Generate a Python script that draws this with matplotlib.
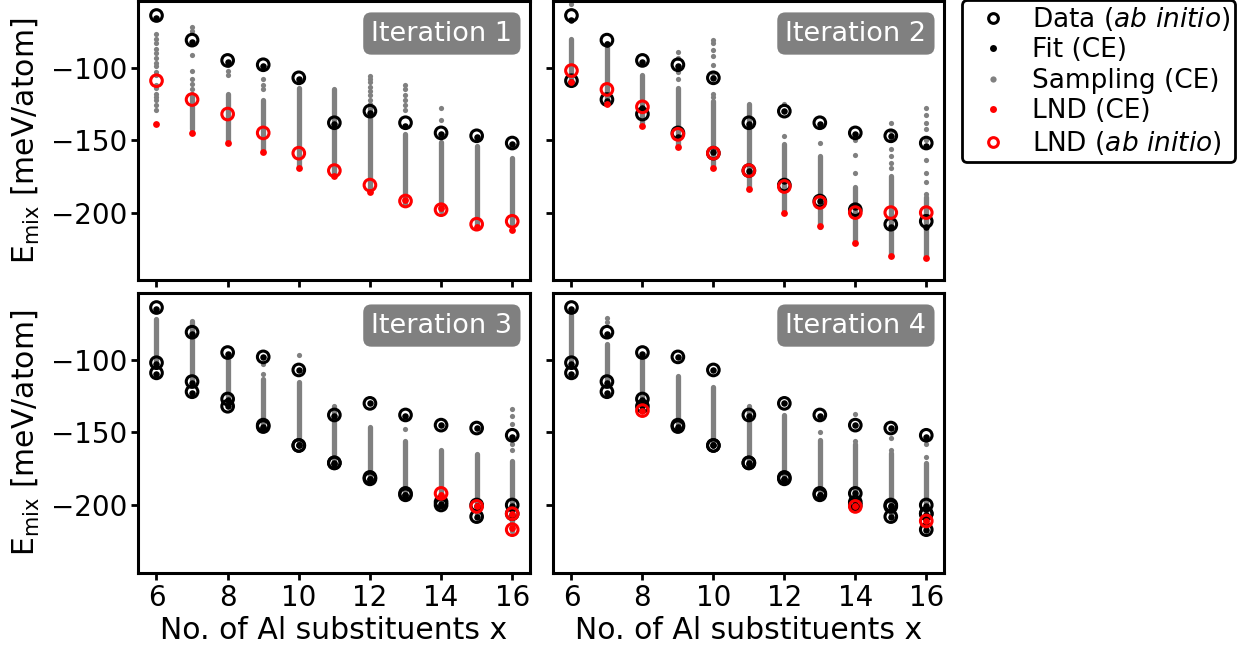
import matplotlib
matplotlib.use("Agg")
import matplotlib.pyplot as plt
from matplotlib.lines import Line2D

# ---------------- data ----------------
x_all = [6, 7, 8, 9, 10, 11, 12, 13, 14, 15, 16]

# ab initio data blocks (accumulate over iterations)
d0_y = [-64, -81, -95, -98, -107, -138, -130, -138, -145, -147, -152]
l1_x = x_all
l1_y = [-109, -122, -132, -145, -159, -171, -181, -192, -198, -208, -206]
l2_x = x_all
l2_y = [-102, -115, -127, -146, -159, -171, -182, -193, -200, -200, -200]
l3_x = [14, 15, 16, 16]
l3_y = [-192, -201, -206, -217]
l4_x = [8, 14, 16]
l4_y = [-135, -201, -211]

# LND (CE) predictions per iteration
c1_x = x_all
c1_y = [-139, -145, -152, -158, -169, -175, -186, -191, -197, -210, -212]
c2_x = x_all
c2_y = [-110, -125, -140, -155, -169, -184, -200, -209, -221, -230, -231]
c3_x = [14, 15, 16, 16]
c3_y = [-193, -201, -206, -216]
c4_x = [8, 14, 16]
c4_y = [-135, -201, -211]

# CE fit values for the data of each iteration
fit1_y = [-66, -82, -96, -99, -108, -139, -131, -140, -146, -148, -153]
fit2_y = [-67, -84, -96, -99, -107, -139, -130, -139, -146, -147, -154,
          -110, -123, -128, -148, -158, -171, -178, -192, -196, -210, -210]
fit3_y = [-65, -82, -96, -98, -107, -139, -130, -139, -145, -147, -153,
          -110, -123, -132, -146, -159, -171, -182, -193, -199, -208, -207,
          -103, -116, -128, -147, -159, -172, -182, -193, -200, -201, -201]
fit4_y = fit3_y + [-192, -201, -207, -217]

# sampling (CE): dense band (top, bottom) per x and isolated points
band1_top = [None, -118, -118, -122, -114, -115, -125, -146, -151, -154, -162]
band1_bot = [None, -142, -151, -157, -168, -173, -184, -194, -199, -210, -210]
ext1_x = [6] * 17 + [7] * 8 + [8] * 3 + [9] * 3 + [12] * 7 + [13] * 7 + [14] * 2
ext1_y = [-77, -80, -83, -87, -90, -93, -97, -99, -103, -105, -112, -114, -118, -120, -122, -126, -129,
          -72, -75, -83, -91, -102, -108, -111, -115,
          -98, -102, -105,
          -108, -112, -115,
          -106, -108, -110, -113, -116, -119, -122,
          -112, -115, -119, -122, -126, -129, -140,
          -128, -136]

band2_top = [-80, -83, -105, -114, -123, -125, -153, -161, -182, -175, -189]
band2_bot = [-110, -125, -138, -155, -168, -184, -198, -210, -221, -230, -230]
ext2_x = [6] + [9] * 5 + [10] * 8 + [12] * 2 + [13] + [14] * 3 + [15] * 7 + [16] * 9
ext2_y = [-56,
          -89, -93, -99, -103, -108,
          -81, -83, -88, -92, -98, -104, -118, -120,
          -125, -147,
          -152,
          -150, -160, -173,
          -138, -144, -150, -156, -161, -166, -169,
          -128, -133, -138, -142, -150, -164, -173, -179, -187]

band3_top = [-72, -74, -97, -113, -115, -132, -146, -156, -162, -165, -170]
band3_bot = [-103, -115, -129, -145, -158, -171, -181, -193, -197, -206, -218]
ext3_x = [7, 9, 9, 10, 13, 16, 16, 16, 16, 16]
ext3_y = [-73, -103, -110, -97, -148, -134, -139, -144, -158, -162]

band4_top = [-69, -89, -98, -111, -119, -132, -138, -155, -158, -164, -171]
band4_bot = [-104, -115, -128, -145, -158, -170, -181, -191, -197, -206, -216]
ext4_x = [7, 7, 13, 14, 14, 15, 15, 16, 16]
ext4_y = [-71, -74, -150, -137, -156, -154, -162, -158, -167]

titles = ["Iteration 1", "Iteration 2", "Iteration 3", "Iteration 4"]

# -------------- build panel tables --------------
panels = [
    dict(dx=x_all, dy=d0_y, fy=fit1_y, bt=band1_top, bb=band1_bot, ex=ext1_x, ey=ext1_y,
         cx=c1_x, cy=c1_y, lx=l1_x, ly=l1_y),
    dict(dx=x_all + l1_x, dy=d0_y + l1_y, fy=fit2_y, bt=band2_top, bb=band2_bot, ex=ext2_x, ey=ext2_y,
         cx=c2_x, cy=c2_y, lx=l2_x, ly=l2_y),
    dict(dx=x_all + l1_x + l2_x, dy=d0_y + l1_y + l2_y, fy=fit3_y, bt=band3_top, bb=band3_bot,
         ex=ext3_x, ey=ext3_y, cx=c3_x, cy=c3_y, lx=l3_x, ly=l3_y),
    dict(dx=x_all + l1_x + l2_x + l3_x, dy=d0_y + l1_y + l2_y + l3_y, fy=fit4_y, bt=band4_top,
         bb=band4_bot, ex=ext4_x, ey=ext4_y, cx=c4_x, cy=c4_y, lx=l4_x, ly=l4_y),
]

GRAY = "#808080"
TICK_FS = 20
LAB_FS = 21.5

fig = plt.figure(figsize=(12.54, 6.54), dpi=100)
pos = [
    [138 / 1254, 1 - 280 / 654, 392 / 1254, 279 / 654],
    [553 / 1254, 1 - 280 / 654, 391 / 1254, 279 / 654],
    [138 / 1254, 1 - 572.5 / 654, 392 / 1254, 279.5 / 654],
    [553 / 1254, 1 - 572.5 / 654, 391 / 1254, 279.5 / 654],
]
axes = [fig.add_axes(p) for p in pos]

for i, (ax, p) in enumerate(zip(axes, panels)):
    # sampling dense bands
    for xv, t, b in zip(x_all, p["bt"], p["bb"]):
        if t is None:
            continue
        ax.plot([xv, xv], [t, b], color=GRAY, lw=3.8, solid_capstyle="round", zorder=1)
    ax.scatter(p["ex"], p["ey"], s=14, color=GRAY, lw=0, zorder=1)
    # data and fit
    ax.scatter(p["dx"], p["dy"], s=70, facecolors="none", edgecolors="black", linewidths=2.2, zorder=3)
    ax.scatter(p["dx"], p["fy"], s=22, color="black", lw=0, zorder=4)
    # LND
    ax.scatter(p["cx"], p["cy"], s=24, color="red", lw=0, zorder=5)
    ax.scatter(p["lx"], p["ly"], s=70, facecolors="none", edgecolors="red", linewidths=2.2, zorder=6)

    ax.set_xlim(5.48, 16.5)
    ax.set_ylim(-246.5, -54)
    ax.set_xticks([6, 8, 10, 12, 14, 16])
    ax.set_yticks([-100, -150, -200])
    ax.tick_params(axis="both", labelsize=TICK_FS, width=2, length=5, pad=3)
    for sp in ax.spines.values():
        sp.set_linewidth(2.2)
    if i < 2:
        ax.tick_params(labelbottom=False)
    else:
        ax.set_xlabel("No. of Al substituents x", fontsize=LAB_FS, labelpad=3)
    if i % 2 == 1:
        ax.tick_params(labelleft=False)
    else:
        ax.set_ylabel(r"E$_{\mathrm{mix}}$ [meV/atom]", fontsize=LAB_FS, labelpad=6)
    ax.text(0.955, 0.93, titles[i], transform=ax.transAxes, ha="right", va="top",
            fontsize=19.5, color="white",
            bbox=dict(boxstyle="round,pad=0.3,rounding_size=0.3", fc=GRAY, ec="none"))

handles = [
    Line2D([], [], ls="none", marker="o", ms=7, mfc="none", mec="black", mew=2.2),
    Line2D([], [], ls="none", marker="o", ms=5, mfc="black", mec="none"),
    Line2D([], [], ls="none", marker="o", ms=4.5, mfc=GRAY, mec="none"),
    Line2D([], [], ls="none", marker="o", ms=5, mfc="red", mec="none"),
    Line2D([], [], ls="none", marker="o", ms=7, mfc="none", mec="red", mew=2.2),
]
labels = [r"Data ($ab\ initio$)", "Fit (CE)", "Sampling (CE)", "LND (CE)", r"LND ($ab\ initio$)"]
leg = axes[1].legend(handles, labels, loc="upper left", bbox_to_anchor=(1.045, 1.005),
                     borderaxespad=0, fontsize=19, frameon=True, fancybox=True,
                     handletextpad=0.45, labelspacing=0.17, borderpad=0.2, handlelength=2.0)
leg.get_frame().set_edgecolor("black")
leg.get_frame().set_linewidth(2)
leg.get_frame().set_alpha(1)

fig.savefig("out.png", dpi=100)
